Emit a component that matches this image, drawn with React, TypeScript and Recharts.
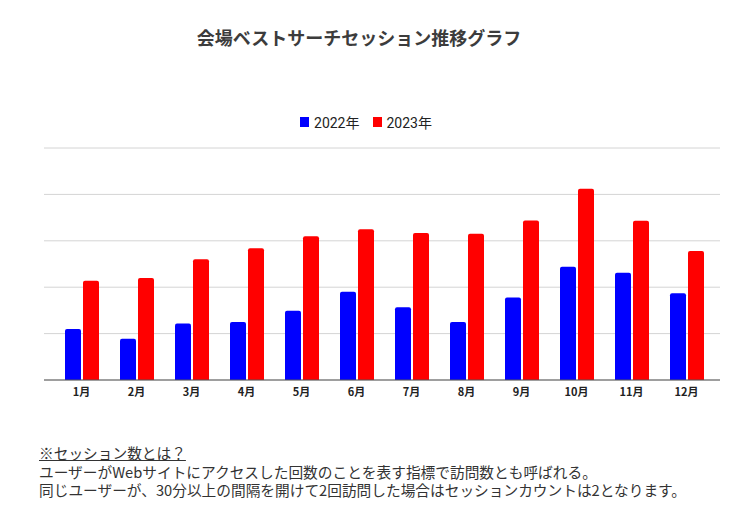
import React from "react";
import { BarChart, Bar, XAxis, YAxis, CartesianGrid, Legend } from "recharts";

const months = ["1月", "2月", "3月", "4月", "5月", "6月", "7月", "8月", "9月", "10月", "11月", "12月"];
const sessions2022 = [1100, 890, 1220, 1250, 1490, 1900, 1570, 1250, 1780, 2440, 2310, 1870];
const sessions2023 = [2140, 2200, 2600, 2840, 3100, 3250, 3170, 3150, 3440, 4120, 3430, 2780];
const yTicks = [0, 1000, 2000, 3000, 4000, 5000];
const seriesNames = ["2022年", "2023年"];
const seriesColors = ["#0000ff", "#ff0000"];

const data = months.map((m, i) => ({
  month: m,
  y2022: sessions2022[i],
  y2023: sessions2023[i],
}));

const LegendContent = () => (
  <div style={{ display: "flex", justifyContent: "center", alignItems: "center", fontFamily: "Roboto, 'Noto Sans CJK JP', sans-serif", fontSize: 14, color: "#222", height: 22 }}>
    {seriesNames.map((n, i) => (
      <div key={n} style={{ display: "flex", alignItems: "center", marginRight: i === 0 ? 13 : 0 }}>
        <span style={{ display: "inline-block", width: 9, height: 10, background: seriesColors[i], marginRight: 5 }} />
        <span>{n}</span>
      </div>
    ))}
  </div>
);

const noteLines = [
  "ユーザーがWebサイトにアクセスした回数のことを表す指標で訪問数とも呼ばれる。",
  "同じユーザーが、30分以上の間隔を開けて2回訪問した場合はセッションカウントは2となります。",
];

export default function App() {
  return (
    <div style={{ position: "absolute", left: 0, top: 0, width: 740, height: 521, background: "#fff", fontFamily: "'Noto Sans CJK JP', sans-serif" }}>
      <div style={{ position: "absolute", left: 0, width: 718, top: 25, textAlign: "center", fontSize: 18, fontWeight: 700, color: "#3c3c3c", lineHeight: "24px" }}>
        会場ベストサーチセッション推移グラフ
      </div>
      <BarChart
        width={740}
        height={521}
        data={data}
        margin={{ top: 126, right: 20, bottom: 111, left: 44 }}
        barGap={2}
        barSize={16}
      >
        <CartesianGrid vertical={false} stroke="#d4d4d4" />
        <XAxis
          dataKey="month"
          height={30}
          tickLine={false}
          axisLine={{ stroke: "#555" }}
          padding={{ left: 10, right: 6 }}
          tick={{ fontSize: 11, fill: "#222", fontWeight: 700 }}
          interval={0}
        />
        <YAxis hide domain={[0, 5000]} ticks={yTicks} />
        <Legend verticalAlign="top" content={<LegendContent />} wrapperStyle={{ top: 111, left: 0, width: 732, height: 22 }} />
        <Bar dataKey="y2022" name={seriesNames[0]} fill={seriesColors[0]} radius={[2, 2, 0, 0]} isAnimationActive={false} />
        <Bar dataKey="y2023" name={seriesNames[1]} fill={seriesColors[1]} radius={[2, 2, 0, 0]} isAnimationActive={false} />
      </BarChart>
      <div style={{ position: "absolute", left: 39, top: 444, fontSize: 14.7, lineHeight: "18.5px", color: "#333", whiteSpace: "nowrap" }}>
        <div style={{ textDecoration: "underline" }}>※セッション数とは？</div>
        {noteLines.map((l) => (
          <div key={l}>{l}</div>
        ))}
      </div>
    </div>
  );
}
